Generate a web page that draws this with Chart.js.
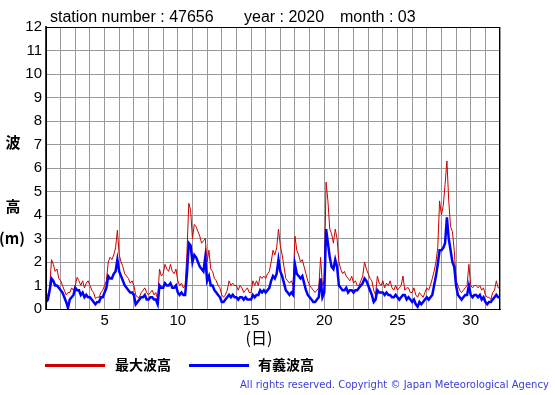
<!DOCTYPE html>
<html>
<head>
<meta charset="utf-8">
<script src="https://cdn.jsdelivr.net/npm/chart.js@4"></script>
<style>
  body { margin: 0; background: #fff; }
  canvas { display: block; }
</style>
</head>
<body>
<canvas id="wave" width="555" height="395"></canvas>
<script>
// 3-hourly values, one row per day of March 2020 (last value = 32nd day 00h)
const STEPS_PER_DAY = 8
const maxWave = [
    0.5, 0.6, 0.9, 2.1, 1.9, 1.6, 1.7, 1.3,
    1.2, 1.0, 0.8, 0.6, 0.7, 0.7, 0.9, 0.8,
    1.0, 1.35, 1.2, 1.0, 1.2, 0.9, 1.1, 1.2,
    1.0, 0.8, 0.7, 0.45, 0.5, 0.5, 0.7, 0.8,
    1.0, 1.2, 2.0, 2.2, 2.1, 2.3, 2.6, 3.35,
    2.3, 2.0, 1.8, 1.5, 1.4, 1.3, 1.1, 1.2,
    1.0, 0.6, 0.5, 0.5, 0.7, 0.8, 0.9, 0.7,
    0.6, 0.7, 0.8, 0.6, 0.7, 0.4, 1.7, 1.4,
    1.5, 1.9, 1.7, 1.6, 1.9, 1.6, 1.5, 1.7,
    1.2, 1.0, 1.1, 0.9, 1.0, 2.4, 4.5, 4.2,
    3.0, 3.6, 3.5, 3.3, 3.1, 2.8, 2.9, 3.0,
    2.0, 2.5, 1.7, 1.6, 1.3, 1.2, 1.0, 0.9,
    0.6, 0.5, 0.6, 0.8, 1.2, 1.0, 1.1, 1.0,
    1.0, 0.8, 1.0, 0.9, 0.7, 0.8, 0.9, 0.7,
    0.7, 1.2, 1.0, 1.2, 1.0, 1.4, 1.3, 1.4,
    1.3, 1.5, 1.6, 2.0, 2.5, 2.3, 2.6, 3.4,
    2.7, 2.3, 1.8, 1.3, 1.2, 1.1, 1.2, 1.0,
    3.1, 2.5, 2.3, 2.0, 2.1, 1.8, 1.5, 1.2,
    1.0, 0.9, 0.8, 0.7, 0.8, 0.9, 2.2, 1.0,
    1.2, 5.4, 4.6, 3.4, 3.2, 2.8, 3.4, 3.0,
    2.0, 1.7, 1.5, 1.6, 1.4, 1.3, 1.2, 1.4,
    1.1, 1.2, 1.0, 1.0, 1.2, 1.4, 2.0, 1.7,
    1.5, 1.3, 1.2, 0.8, 0.6, 1.4, 1.1, 1.0,
    1.2, 0.9, 1.1, 1.0, 1.2, 0.9, 0.8, 1.0,
    0.8, 0.9, 1.0, 1.4, 0.8, 0.9, 0.9, 0.7,
    0.7, 0.9, 0.6, 0.5, 0.7, 0.6, 0.5, 0.7,
    0.9, 0.8, 1.0, 1.3, 1.6, 2.0, 2.6, 4.6,
    4.0, 4.4, 5.3, 6.3, 4.6, 3.5, 3.3, 2.5,
    1.2, 1.0, 0.8, 0.7, 0.8, 0.9, 1.0, 1.9,
    1.0, 0.9, 1.0, 1.0, 0.9, 1.0, 0.8, 0.9,
    0.6, 0.5, 0.5, 0.4, 0.7, 0.8, 1.2, 0.9,
    0.9
]
const sigWave = [
    0.3, 0.4, 0.8, 1.3, 1.2, 1.0, 1.0, 0.9,
    0.8, 0.7, 0.5, 0.3, 0.05, 0.4, 0.5, 0.6,
    0.9, 0.8, 0.8, 0.6, 0.7, 0.5, 0.6, 0.5,
    0.5, 0.4, 0.3, 0.2, 0.3, 0.3, 0.5, 0.5,
    0.7, 0.9, 1.4, 1.3, 1.3, 1.5, 1.6, 2.1,
    1.6, 1.4, 1.2, 1.0, 0.9, 0.8, 0.7, 0.7,
    0.6, 0.2, 0.3, 0.4, 0.5, 0.5, 0.6, 0.4,
    0.4, 0.5, 0.5, 0.4, 0.4, 0.2, 1.0, 0.9,
    0.9, 1.1, 1.0, 1.0, 1.1, 0.9, 0.9, 1.0,
    0.7, 0.6, 0.7, 0.6, 0.6, 1.5, 2.8, 2.7,
    2.0, 2.3, 2.2, 2.0, 1.8, 1.7, 1.6, 2.2,
    1.2, 1.4, 1.0, 1.0, 0.8, 0.7, 0.6, 0.5,
    0.3, 0.3, 0.4, 0.5, 0.6, 0.5, 0.6, 0.5,
    0.5, 0.4, 0.5, 0.5, 0.4, 0.5, 0.4, 0.4,
    0.4, 0.6, 0.5, 0.6, 0.6, 0.8, 0.7, 0.8,
    0.7, 0.8, 0.9, 1.2, 1.4, 1.3, 1.5, 2.1,
    1.6, 1.4, 1.1, 0.8, 0.7, 0.6, 0.7, 0.6,
    1.9, 1.5, 1.4, 1.3, 1.4, 1.1, 0.8, 0.6,
    0.5, 0.4, 0.3, 0.3, 0.4, 0.5, 1.3, 0.5,
    0.7, 3.4, 2.8, 2.2, 1.8, 1.7, 2.1, 1.8,
    1.0, 0.9, 0.8, 0.8, 0.9, 0.7, 0.8, 0.8,
    0.7, 0.8, 0.8, 0.9, 1.0, 1.1, 1.3, 1.2,
    1.0, 0.8, 0.6, 0.3, 0.4, 0.8, 0.7, 0.7,
    0.7, 0.6, 0.7, 0.6, 0.6, 0.5, 0.5, 0.6,
    0.5, 0.4, 0.5, 0.6, 0.6, 0.4, 0.5, 0.4,
    0.3, 0.4, 0.2, 0.1, 0.3, 0.2, 0.3, 0.4,
    0.5, 0.4, 0.5, 0.6, 1.0, 1.4, 1.9, 2.5,
    2.5, 2.6, 2.8, 3.9, 3.0, 2.5, 2.0, 1.8,
    1.0, 0.6, 0.5, 0.4, 0.5, 0.6, 0.6, 1.0,
    0.6, 0.5, 0.6, 0.6, 0.5, 0.6, 0.4, 0.5,
    0.3, 0.2, 0.3, 0.3, 0.4, 0.5, 0.6, 0.5,
    0.5
]
const seriesNames = ['最大波高', '有義波高']
const seriesColors = ['#cc0000', '#0000ff']
const dayTicks = [5, 10, 15, 20, 25, 30]
const titleParts = ['station number : 47656', 'year : 2020', 'month : 03']

const toPoints = arr => arr.map((v, i) => ({x: 1 + i / STEPS_PER_DAY, y: v}))

const decorations = {
    id: 'decorations',
    afterDraw: (chart) => {
        const ctx = chart.ctx
        const a = chart.chartArea
        ctx.save()
        // frame round the plot
        ctx.strokeStyle = '#000'
        ctx.lineWidth = 1
        ctx.strokeRect(a.left + 0.5, a.top + 0.5, a.right - a.left - 1, a.bottom - a.top)

        ctx.fillStyle = '#000'
        ctx.textBaseline = 'alphabetic'
        ctx.font = '16px "Liberation Sans", Arial, sans-serif'
        ctx.fillText(titleParts[0], 50, 22)
        ctx.fillText(titleParts[1], 244, 22)
        ctx.fillText(titleParts[2], 340, 22)

        // vertical y title
        ctx.textAlign = 'center'
        ctx.textBaseline = 'middle'
        ctx.font = 'bold 15px "Noto Sans CJK JP", sans-serif'
        ctx.fillText('波', 13, 142)
        ctx.fillText('高', 13, 206)
        ctx.fillText('(m)', 12, 238)

        ctx.font = '16px "Noto Sans CJK JP", sans-serif'
        ctx.fillText('(日)', 259, 338)

        // legend
        ctx.textAlign = 'left'
        ctx.font = 'bold 14px "Noto Sans CJK JP", sans-serif'
        ctx.lineWidth = 3
        const legendX = [[45, 115], [189, 258]]
        legendX.forEach((p, i) => {
            ctx.strokeStyle = seriesColors[i]
            ctx.beginPath()
            ctx.moveTo(p[0], 365.5)
            ctx.lineTo(p[0] + 60, 365.5)
            ctx.stroke()
            ctx.fillStyle = '#000'
            ctx.fillText(seriesNames[i], p[1], 365)
        })

        // copyright line, stretched to the same width as the original
        const note = 'All rights reserved. Copyright © Japan Meteorological Agency'
        ctx.font = '10px "DejaVu Sans", sans-serif'
        ctx.fillStyle = '#3a3ae0'
        const w = ctx.measureText(note).width
        ctx.letterSpacing = ((309 - w) / note.length).toFixed(2) + 'px'
        ctx.fillText(note, 240, 385)
        ctx.restore()
    }
}

new Chart(document.getElementById('wave'), {
    type: 'line',
    data: {
        datasets: [{
            label: seriesNames[0],
            data: toPoints(maxWave),
            borderColor: seriesColors[0],
            borderWidth: 1,
            pointRadius: 0,
            tension: 0,
            order: 1,
        }, {
            label: seriesNames[1],
            data: toPoints(sigWave),
            borderColor: seriesColors[1],
            borderWidth: 2.5,
            pointRadius: 0,
            tension: 0,
            order: 0,
        }]
    },
    plugins: [decorations],
    options: {
        responsive: false,
        animation: false,
        events: [],
        layout: { padding: { left: 0, top: 27, right: 55, bottom: 66 } },
        plugins: { legend: { display: false }, tooltip: { enabled: false } },
        scales: {
            x: {
                type: 'linear',
                min: 1,
                max: 32,
                afterFit: (scale) => { scale.height = 20 },
                grid: { color: '#999', tickLength: 0 },
                border: { color: '#000', width: 1 },
                ticks: {
                    stepSize: 1,
                    autoSkip: false,
                    maxRotation: 0,
                    padding: 3,
                    color: '#000',
                    font: { family: '"Liberation Sans", Arial, sans-serif', size: 15 },
                    callback: (v) => dayTicks.includes(v) ? String(v) : '',
                }
            },
            y: {
                min: 0,
                max: 12,
                afterFit: (scale) => { scale.width = 46 },
                grid: { color: '#999', tickLength: 0 },
                border: { color: '#333', width: 2 },
                ticks: {
                    stepSize: 1,
                    padding: 4,
                    color: '#000',
                    font: { family: '"Liberation Sans", Arial, sans-serif', size: 15 },
                }
            }
        }
    }
})
</script>
</body>
</html>
